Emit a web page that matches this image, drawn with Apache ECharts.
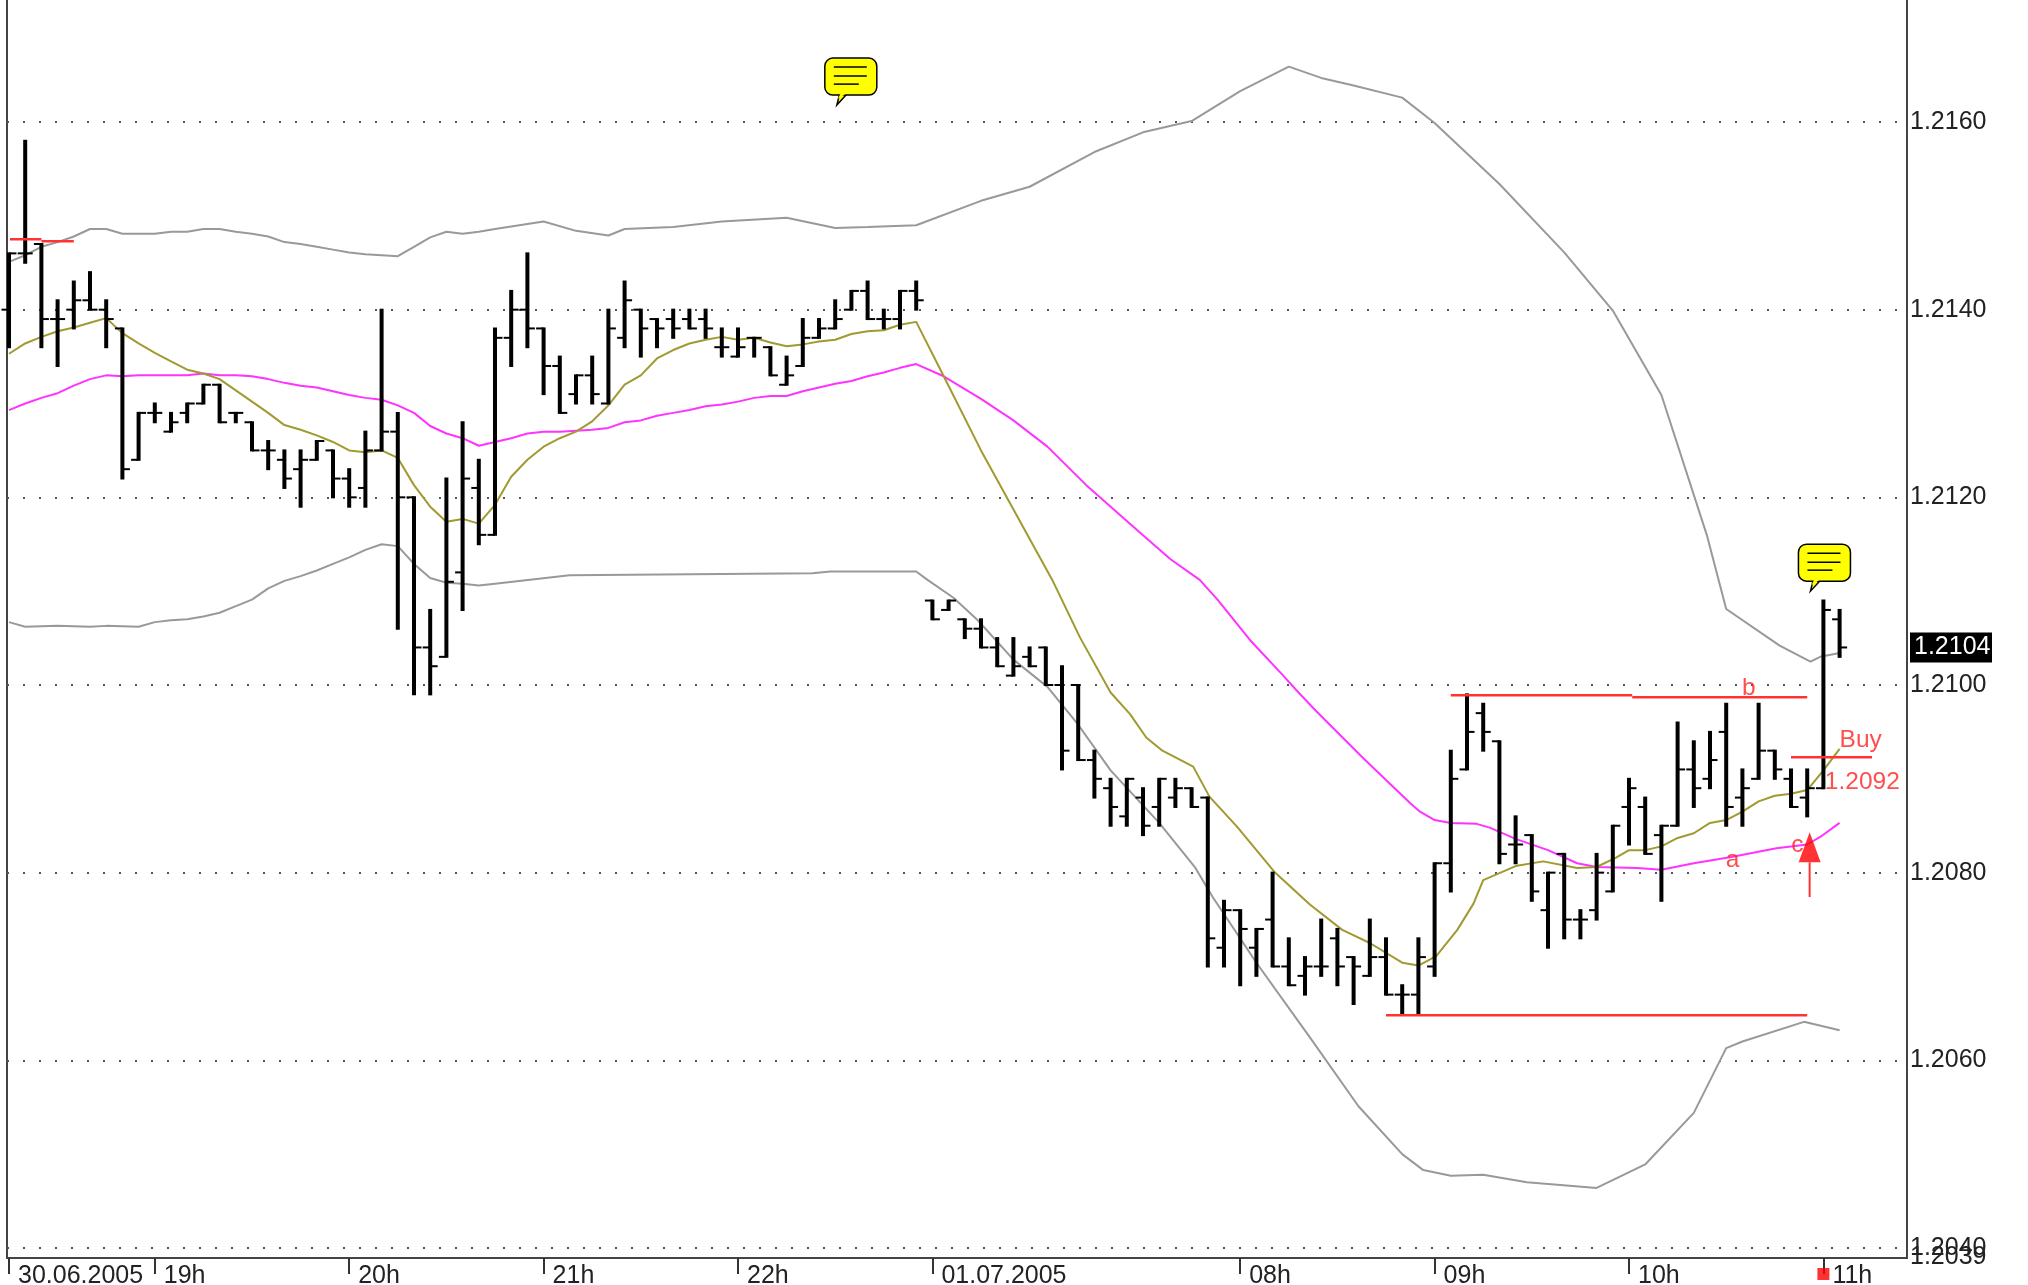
<!DOCTYPE html>
<html>
<head>
<meta charset="utf-8">
<title>EURUSD 5 min</title>
<script src="https://cdn.jsdelivr.net/npm/echarts@6/dist/echarts.min.js"></script>
<style>
html, body { margin:0; padding:0; background:#fff; }
#main { width:2028px; height:1285px; }
</style>
</head>
<body>
<div id="main"></div>
<script>
// one entry per 5 min bar
const opens = [
    1.2140,1.2146,1.2147,1.2139,1.2140,1.2141,1.2140,1.2138,1.2124,1.2129,
    1.2127,1.2129,1.2130,1.2132,1.2129,1.2128,1.2125,1.2124,1.2123,1.2124,
    1.2125,1.2122,1.2121,1.2125,1.2127,1.2120,1.2104,1.2103,1.2112,1.2121,
    1.2116,1.2137,1.2140,1.2138,1.2134,1.2131,1.2133,1.2130,1.2137,1.2140,
    1.2139,1.2139,1.2139,1.2139,1.2136,1.2135,1.2137,1.2136,1.2132,1.2134,
    1.2137,1.2138,1.2140,1.2142,1.2139,1.2139,1.2142,1.2109,1.2108,1.2107,
    1.2106,1.2104,1.2101,1.2103,1.2104,1.2100,1.2100,1.2092,1.2089,1.2086,
    1.2088,1.2087,1.2088,1.2089,1.2088,1.2072,1.2076,1.2072,1.2075,1.2070,
    1.2069,1.2070,1.2073,1.2071,1.2069,1.2071,1.2067,1.2067,1.2070,1.2081,
    1.2091,1.2097,1.2094,1.2083,1.2084,1.2076,1.2082,1.2075,1.2076,1.2078,
    1.2087,1.2087,1.2084,1.2085,1.2091,1.2090,1.2095,1.2088,1.2090,1.2093,
    1.2090,1.2088,1.2089,1.2107
];
const highs = [
    1.2146,1.2158,1.2147,1.2141,1.2143,1.2144,1.2141,1.2138,1.2129,1.2130,
    1.2129,1.2130,1.2132,1.2132,1.2129,1.2128,1.2126,1.2125,1.2125,1.2126,
    1.2125,1.2123,1.2127,1.2140,1.2129,1.2120,1.2108,1.2122,1.2128,1.2124,
    1.2138,1.2142,1.2146,1.2138,1.2135,1.2133,1.2135,1.2140,1.2143,1.2140,
    1.2139,1.2140,1.2140,1.2140,1.2138,1.2138,1.2137,1.2136,1.2135,1.2139,
    1.2139,1.2141,1.2142,1.2143,1.2140,1.2142,1.2143,1.2109,1.2109,1.2107,
    1.2107,1.2105,1.2105,1.2104,1.2104,1.2102,1.2100,1.2093,1.2090,1.2090,
    1.2089,1.2090,1.2090,1.2089,1.2088,1.2077,1.2076,1.2074,1.2080,1.2073,
    1.2071,1.2075,1.2074,1.2071,1.2075,1.2073,1.2068,1.2073,1.2081,1.2093,
    1.2099,1.2098,1.2094,1.2086,1.2084,1.2080,1.2082,1.2076,1.2082,1.2085,
    1.2090,1.2088,1.2085,1.2096,1.2094,1.2095,1.2098,1.2091,1.2098,1.2093,
    1.2091,1.2091,1.2109,1.2108
];
const lows = [
    1.2136,1.2145,1.2136,1.2134,1.2138,1.2140,1.2136,1.2122,1.2124,1.2128,
    1.2127,1.2128,1.2130,1.2128,1.2128,1.2125,1.2123,1.2121,1.2119,1.2124,
    1.2120,1.2119,1.2119,1.2125,1.2106,1.2099,1.2099,1.2103,1.2108,1.2115,
    1.2116,1.2134,1.2136,1.2131,1.2129,1.2130,1.2130,1.2130,1.2136,1.2135,
    1.2136,1.2137,1.2138,1.2137,1.2135,1.2135,1.2135,1.2133,1.2132,1.2134,
    1.2137,1.2138,1.2140,1.2139,1.2138,1.2138,1.2140,1.2107,1.2108,1.2105,
    1.2104,1.2102,1.2101,1.2102,1.2100,1.2091,1.2092,1.2088,1.2085,1.2085,
    1.2084,1.2085,1.2087,1.2087,1.2070,1.2070,1.2068,1.2069,1.2070,1.2068,
    1.2067,1.2069,1.2068,1.2066,1.2069,1.2067,1.2065,1.2065,1.2069,1.2078,
    1.2091,1.2093,1.2081,1.2081,1.2077,1.2072,1.2073,1.2073,1.2075,1.2078,
    1.2083,1.2082,1.2077,1.2085,1.2087,1.2089,1.2085,1.2085,1.2090,1.2090,
    1.2087,1.2086,1.2089,1.2103
];
const closes = [
    1.2146,1.2146,1.2139,1.2139,1.2141,1.2140,1.2139,1.2123,1.2129,1.2129,
    1.2128,1.2130,1.2132,1.2128,1.2129,1.2125,1.2125,1.2122,1.2124,1.2126,
    1.2122,1.2120,1.2125,1.2127,1.2120,1.2104,1.2102,1.2111,1.2122,1.2116,
    1.2137,1.2140,1.2138,1.2134,1.2129,1.2133,1.2131,1.2138,1.2141,1.2138,
    1.2138,1.2138,1.2138,1.2138,1.2136,1.2136,1.2137,1.2133,1.2133,1.2137,
    1.2138,1.2139,1.2142,1.2139,1.2139,1.2142,1.2141,1.2107,1.2109,1.2106,
    1.2104,1.2102,1.2102,1.2102,1.2100,1.2093,1.2092,1.2090,1.2087,1.2090,
    1.2085,1.2090,1.2089,1.2087,1.2073,1.2076,1.2074,1.2074,1.2070,1.2068,
    1.2070,1.2070,1.2070,1.2070,1.2071,1.2067,1.2067,1.2071,1.2081,1.2090,
    1.2095,1.2095,1.2082,1.2083,1.2078,1.2080,1.2075,1.2075,1.2080,1.2085,
    1.2089,1.2082,1.2085,1.2091,1.2089,1.2092,1.2087,1.2089,1.2093,1.2091,
    1.2087,1.2089,1.2108,1.2104
];

// [bar index, price] vertices
const upperBand = [
    [0,1.21451],[1,1.21458],[2,1.21467],[3,1.21472],[4,1.21478],[5,1.21486],[6,1.21486],[7,1.21481],[9,1.21481],
    [10,1.21483],[11,1.21483],[12,1.21486],[13,1.21486],[14,1.21483],[15,1.21481],[16,1.21478],[17,1.21472],[18,1.21470],
    [19,1.21467],[20,1.21464],[21,1.21461],[22,1.21459],[24,1.21457],[25,1.21467],[26,1.21477],[27,1.21483],[28,1.21481],
    [29,1.21483],[30,1.21486],[33,1.21494],[35,1.21484],[37,1.21479],[38,1.21486],[41,1.21488],[44,1.21494],[48,1.21498],
    [51,1.21487],[53,1.21488],[56,1.21490],[60,1.21516],[63,1.21531],[67,1.21568],[70,1.21589],[73,1.21601],[76,1.21633],
    [79,1.21659],[81,1.21647],[83,1.21639],[86,1.21626],[88,1.21599],[92,1.21534],[96,1.21461],[99,1.21399],[102,1.21309],
    [104.8,1.21160],[106,1.21081],[109.3,1.21042],[111.2,1.21025],[111.8,1.21030],[113,1.21034]
];
const lowerBand = [
    [0,1.21067],[1,1.21062],[3,1.21063],[5,1.21062],[6,1.21063],[8,1.21062],[9,1.21067],[10,1.21069],[11,1.21070],[12,1.21073],
    [13,1.21077],[14,1.21084],[15,1.21091],[16,1.21103],[17,1.21111],[18,1.21116],[19,1.21122],[20,1.21129],[21,1.21136],[22,1.21144],
    [23,1.21150],[24,1.21148],[25,1.21129],[26,1.21114],[27,1.21109],[28,1.21108],[29,1.21106],[30,1.21108],[34.6,1.21117],[49.6,1.21119],
    [50.7,1.21121],[56,1.21121],[56.7,1.21112],[58.3,1.21093],[59.8,1.21069],[62,1.21027],[64.1,1.20998],[65.9,1.20960],[68,1.20909],
    [71,1.20853],[73.2,1.20806],[74.3,1.20774],[77,1.20704],[80.4,1.20622],[83.3,1.20551],[86,1.20500],[87.3,1.20483],[89,1.20477],
    [91,1.20478],[93.7,1.20470],[98,1.20464],[101,1.20489],[104,1.20544],[106,1.20613],[107,1.20620],[110.8,1.20641],[113,1.20632]
];
const fastAverage = [
    [0,1.21353],[1,1.21364],[2,1.21371],[3,1.21377],[4,1.21381],[5,1.21386],[6,1.21391],[7,1.21375],[8,1.21364],[9,1.21354],
    [10,1.21345],[11,1.21336],[12,1.21332],[13,1.21326],[14,1.21314],[15,1.21302],[16,1.21290],[17,1.21277],[18,1.21272],[19,1.21266],
    [20,1.21259],[21,1.21250],[22,1.21248],[23,1.21250],[24,1.21242],[25,1.21213],[26,1.21190],[27,1.21174],[28,1.21177],[29,1.21172],
    [30,1.21192],[31,1.21222],[32,1.21240],[33,1.21254],[34,1.21263],[35,1.21270],[36,1.21281],[37,1.21298],[38,1.21320],[39,1.21330],
    [40,1.21348],[41,1.21357],[42,1.21364],[43,1.21368],[44,1.21371],[45,1.21368],[46,1.21370],[47,1.21365],[48,1.21361],[49,1.21363],
    [50,1.21366],[51,1.21368],[52,1.21374],[53,1.21377],[54,1.21378],[55,1.21384],[56,1.21387],[57.7,1.21329],[60,1.21250],[64.4,1.21112],
    [66.1,1.21051],[68,1.20992],[69.2,1.20969],[70.2,1.20944],[71.2,1.20930],[73.1,1.20913],[74.1,1.20881],[75.8,1.20849],[78.1,1.20801],
    [80.3,1.20766],[82.3,1.20739],[84,1.20725],[86,1.20704],[87,1.20701],[88.1,1.20711],[89.4,1.20739],[90.4,1.20767],[91,1.20792],
    [93,1.20807],[94.7,1.20812],[96.8,1.20805],[98,1.20806],[99.2,1.20816],[100,1.20824],[101,1.20824],[102,1.20828],[103,1.20837],
    [104,1.20842],[105,1.20853],[106,1.20856],[107,1.20865],[108,1.20876],[109,1.20882],[110,1.20884],[111,1.20888],[112,1.20909],[113,1.20932]
];
const slowAverage = [
    [0,1.21293],[1,1.21300],[2,1.21306],[3,1.21311],[4,1.21319],[5,1.21326],[6,1.21330],[7,1.21329],[8,1.21330],[11,1.21330],
    [12,1.21332],[13,1.21330],[14,1.21330],[15,1.21329],[16,1.21326],[17,1.21322],[18,1.21319],[19,1.21317],[20,1.21313],[21,1.21309],
    [22,1.21306],[23,1.21304],[24,1.21298],[25,1.21290],[26,1.21276],[27,1.21268],[28,1.21263],[29,1.21255],[30,1.21259],[31,1.21263],
    [32,1.21268],[33,1.21270],[34,1.21270],[35,1.21271],[36,1.21272],[37,1.21274],[38,1.21280],[39,1.21282],[40,1.21287],[41,1.21290],
    [42,1.21293],[43,1.21297],[44,1.21299],[45,1.21302],[46,1.21306],[47,1.21308],[48,1.21308],[49,1.21313],[50,1.21317],[51,1.21321],
    [52,1.21324],[53,1.21329],[54,1.21333],[55,1.21338],[56,1.21342],[57.7,1.21329],[60,1.21305],[62,1.21282],[64.1,1.21254],[66.5,1.21213],
    [69.7,1.21164],[71.7,1.21134],[73.5,1.21112],[74.6,1.21091],[76.6,1.21048],[78.6,1.21011],[79.6,1.20992],[80.7,1.20972],[83.6,1.20922],
    [86.5,1.20874],[87.1,1.20865],[88,1.20856],[89,1.20853],[90.6,1.20852],[91.4,1.20848],[93,1.20836],[95,1.20824],[96.8,1.20810],
    [98,1.20806],[100.5,1.20805],[102,1.20803],[104,1.20810],[106.4,1.20817],[109.1,1.20826],[111,1.20830],[111.8,1.20838],[113,1.20853]
];

// red trend lines, each a run of vertices
const redLines = [
    [[0.06,1.21475],[2,1.21475]],
    [[2,1.21473],[4,1.21473]],
    [[89,1.20989],[100.2,1.20989]],
    [[100.2,1.20987],[111,1.20987]],
    [[85,1.20648],[111,1.20648]],
    [[110,1.20923],[115,1.20923]]
];
const redLabels = [
    [114.3,1.20941,'Buy'],
    [114.4,1.20896,'1.2092'],
    [106.4,1.20813,'a'],
    [107.4,1.20996,'b'],
    [110.4,1.20829,'c']
];
const arrowHead = [[111.15,1.20827]];
const arrowStem = [[111.15,1.20811],[111.15,1.20774]];
const noteTips = [[51.1,1.21618],[111.2,1.2110]];

const lastPrice = 1.2104;
const xTicks = [0,9,21,33,45,57,76,88,100,112];
const xTickText = ['30.06.2005','19h','20h','21h','22h','01.07.2005','08h','09h','10h','11h'];
const gridPrices = [1.2040,1.2060,1.2080,1.2100,1.2120,1.2140,1.2160];
const axisBottomPrice = 1.2039;

const fontFamily = '"Liberation Sans", Arial, sans-serif';
const yMin = 1.203893;
const yMax = 1.217343;
const xMin = -0.123;
const xMax = 117.16;

function lineSeries(data, color, width, z) {
    return {
        type:'line',
        data,
        symbol:'none',
        silent:true,
        z,
        lineStyle:{ color, width }
    };
}

function renderBar(params, api) {
    let x = api.coord([api.value(0), 0])[0];
    let openY = api.coord([0, api.value(1)])[1];
    let highY = api.coord([0, api.value(2)])[1];
    let lowY = api.coord([0, api.value(3)])[1];
    let closeY = api.coord([0, api.value(4)])[1];
    let style = { fill:'#000' };
    return {
        type:'group',
        children:[
            { type:'rect', shape:{ x:x - 2, y:highY - 1, width:4, height:lowY - highY + 2 }, style },
            { type:'rect', shape:{ x:x - 7.5, y:openY - 1, width:7.5, height:2 }, style },
            { type:'rect', shape:{ x:x, y:closeY - 1, width:7.5, height:2 }, style }
        ]
    };
}

function renderNote(params, api) {
    let tip = api.coord([api.value(0), api.value(1)]);
    let tx = tip[0], ty = tip[1];
    let ink = { stroke:'#000', lineWidth:1.5 };
    return {
        type:'group',
        children:[
            { type:'polygon', shape:{ points:[[tx,ty],[tx + 3,ty - 12],[tx + 11,ty - 12]] }, style:{ fill:'#ffff00', ...ink } },
            { type:'rect', shape:{ x:tx - 12, y:ty - 47, width:52, height:37, r:8 }, style:{ fill:'#ffff00', ...ink } },
            { type:'polygon', shape:{ points:[[tx + 1,ty - 6],[tx + 4,ty - 12],[tx + 10,ty - 12]] }, style:{ fill:'#ffff00' } },
            { type:'line', shape:{ x1:tx - 3, y1:ty - 38, x2:tx + 30, y2:ty - 38 }, style:ink },
            { type:'line', shape:{ x1:tx - 3, y1:ty - 29, x2:tx + 30, y2:ty - 29 }, style:ink },
            { type:'line', shape:{ x1:tx - 3, y1:ty - 21, x2:tx + 22, y2:ty - 21 }, style:ink }
        ]
    };
}

function renderPriceTag(params, api) {
    let y = api.coord([xMax, api.value(0)])[1];
    let x = api.coord([xMax, 0])[0] + 3;
    return {
        type:'group',
        children:[
            { type:'rect', shape:{ x, y:y - 15, width:82, height:30 }, style:{ fill:'#000' } },
            { type:'text', style:{ x:x + 4, y, text:api.value(1), fill:'#fff', font:'25px ' + fontFamily, verticalAlign:'middle' } }
        ]
    };
}

// the last scale label sits on top of 1.2040, the axis would drop one of them
function renderEndLabel(params, api) {
    let point = api.coord([xMax, api.value(0)]);
    return {
        type:'text',
        style:{ x:point[0] + 3, y:point[1], text:api.value(1), fill:'#222', font:'25px ' + fontFamily, verticalAlign:'middle' }
    };
}

let bars = opens.map((open, index) => [index, open, highs[index], lows[index], closes[index]]);

let series = [
    lineSeries(upperBand, '#999999', 2, 2),
    lineSeries(lowerBand, '#999999', 2, 2),
    lineSeries(slowAverage, '#ff33ff', 2, 3),
    lineSeries(fastAverage, '#a09a30', 2, 3),
    {
        type:'custom',
        data:bars,
        renderItem:renderBar,
        clip:false,
        silent:true,
        z:5,
        encode:{ x:0, y:[1, 2, 3, 4] }
    },
    ...redLines.map(line => lineSeries(line, '#ff3333', 2.5, 6)),
    lineSeries(arrowStem, '#ff3333', 2, 6),
    {
        type:'scatter',
        data:arrowHead,
        symbol:'triangle',
        symbolSize:[22, 30],
        silent:true,
        z:7,
        itemStyle:{ color:'#ff0000' }
    },
    {
        type:'scatter',
        data:redLabels,
        symbolSize:0,
        silent:true,
        z:8,
        label:{
            show:true,
            position:'inside',
            formatter:(params) => params.value[2],
            color:'#ff2222',
            fontFamily,
            fontSize:24.5
        }
    },
    {
        type:'custom',
        data:noteTips,
        renderItem:renderNote,
        clip:false,
        silent:true,
        z:8,
        encode:{ x:0, y:1 }
    },
    {
        type:'custom',
        coordinateSystem:'cartesian2d',
        data:[[lastPrice, lastPrice.toFixed(4)]],
        renderItem:renderPriceTag,
        clip:false,
        silent:true,
        z:8,
        encode:{ y:0 }
    },
    {
        type:'custom',
        coordinateSystem:'cartesian2d',
        data:[[axisBottomPrice, axisBottomPrice.toFixed(4)]],
        renderItem:renderEndLabel,
        clip:false,
        silent:true,
        z:8,
        encode:{ y:0 }
    },
    {
        // marker for the current bar, under the time axis
        type:'scatter',
        data:[[xTicks[xTicks.length - 1], yMin]],
        symbol:'rect',
        symbolSize:12,
        symbolOffset:[0, 16],
        clip:false,
        silent:true,
        z:8,
        itemStyle:{ color:'#ff0000' }
    }
];

let myChart = echarts.init(document.getElementById('main'), null, { renderer:'canvas' });
myChart.setOption({
    animation:false,
    backgroundColor:'#fff',
    grid:{
        show:true,
        left:7,
        right:121,
        top:-4,
        bottom:27,
        outerBoundsMode:'none',
        borderColor:'#444',
        borderWidth:2,
        backgroundColor:'transparent'
    },
    xAxis:{
        type:'value',
        min:xMin,
        max:xMax,
        splitLine:{ show:false },
        axisLine:{ show:false },
        axisTick:{
            show:true,
            customValues:xTicks,
            length:16,
            lineStyle:{ color:'#333', width:2 }
        },
        axisLabel:{
            customValues:xTicks,
            formatter:(value) => xTickText[xTicks.indexOf(value)],
            align:'left',
            margin:6,
            padding:[0, 0, 0, 9],
            color:'#222',
            fontFamily,
            fontSize:25
        }
    },
    yAxis:{
        type:'value',
        position:'right',
        min:yMin,
        max:yMax,
        axisLine:{ show:false },
        axisTick:{ show:false, customValues:gridPrices },
        splitLine:{
            show:true,
            lineStyle:{ color:'#555', width:2, type:[2, 14] }
        },
        axisLabel:{
            customValues:gridPrices,
            formatter:(value) => value.toFixed(4),
            showMinLabel:true,
            margin:3,
            color:'#222',
            fontFamily,
            fontSize:25
        }
    },
    series
});

window.addEventListener('resize', () => myChart.resize());
</script>
</body>
</html>
